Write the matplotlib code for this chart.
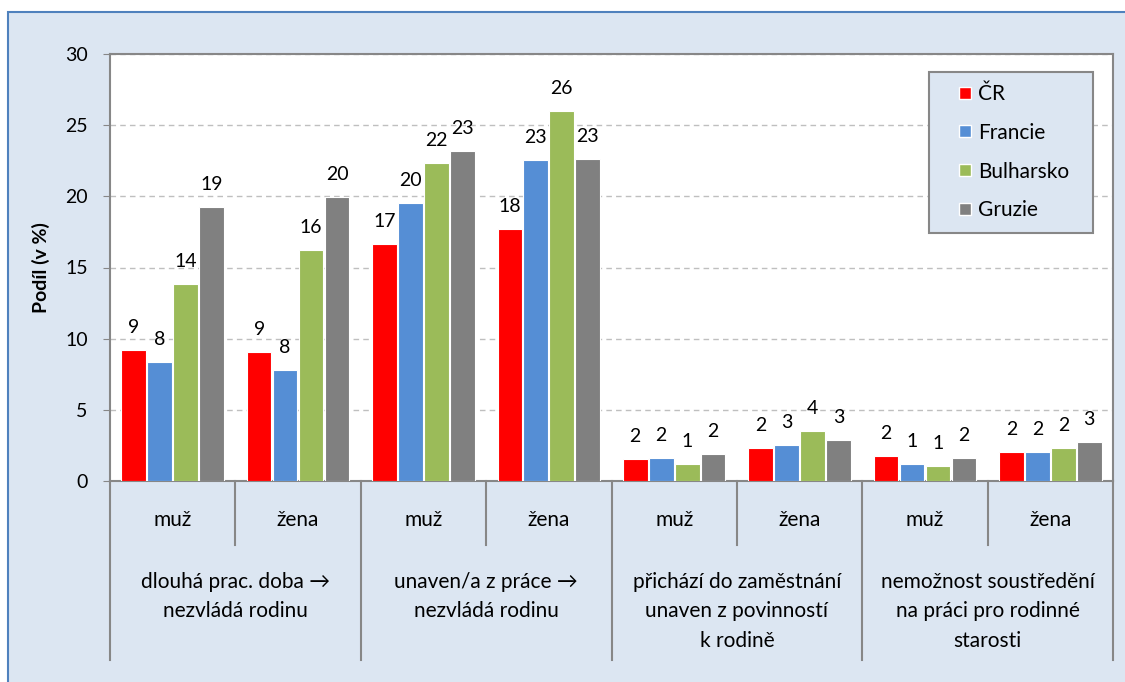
import matplotlib.pyplot as plt
from matplotlib.patches import Rectangle
from matplotlib.lines import Line2D

plt.rcParams['font.family'] = ['Lato', 'DejaVu Sans']

# data
zeme = ['ČR', 'Francie', 'Bulharsko', 'Gruzie']
barvy = ['#FF0000', '#558ED5', '#9BBB59', '#808080']
pohlavi = ['muž', 'žena'] * 4
skupiny = ['dlouhá prac. doba →\nnezvládá rodinu',
           'unaven/a z práce →\nnezvládá rodinu',
           'přichází do zaměstnání\nunaven z povinností\nk rodině',
           'nemožnost soustředění\nna práci pro rodinné\nstarosti']

cr        = [9.2, 9.05, 16.65, 17.7, 1.52, 2.35, 1.76, 2.04]
francie   = [8.36, 7.8, 19.55, 22.55, 1.64, 2.52, 1.19, 2.04]
bulharsko = [13.84, 16.23, 22.35, 26.0, 1.22, 3.52, 1.05, 2.32]
gruzie    = [19.25, 19.96, 23.2, 22.6, 1.9, 2.88, 1.62, 2.74]
hodnoty = [cr, francie, bulharsko, gruzie]

fig = plt.figure(figsize=(11.25, 6.82), dpi=100)
fig.patch.set_facecolor('white')
fig.patches.append(Rectangle((8/1125, -0.05), 1.2, 1.05 - 12/682, transform=fig.transFigure,
                             facecolor='#DCE6F2', edgecolor='#4F81BD', linewidth=1.5, zorder=-10))

ax = fig.add_axes([110/1125, 1 - 481/682, 1003/1125, 427/682])
ax.set_facecolor('white')

fs = 14
fs_txt = 15
krok = 0.207
for i, (nazev, vals) in enumerate(zip(zeme, hodnoty)):
    xs = [g + (i - 1.5) * krok for g in range(len(vals))]
    ax.bar(xs, vals, width=krok - 0.01, color=barvy[i], edgecolor='white', linewidth=0.8,
           label=nazev, zorder=3)
    for x, v in zip(xs, vals):
        ax.annotate('%.0f' % v, (x, v), xytext=(0, 10), textcoords='offset points',
                    ha='center', va='bottom', fontsize=fs, color='black')

ax.set_xlim(-0.5, 7.5)
ax.set_ylim(0, 30)
ax.set_yticks(range(0, 31, 5))
ax.tick_params(axis='y', labelsize=fs, color='#878787', length=5, pad=11)
ax.set_xticks([])
ax.yaxis.grid(True, linestyle=(0, (4, 3)), color='#BFBFBF', linewidth=1, zorder=0)
for s in ax.spines.values():
    s.set_color('#878787')
    s.set_linewidth(1.5)
ax.set_ylabel('Podíl (v %)', fontsize=14, fontweight='bold', labelpad=11)

# hierarchical category axis
tr = ax.get_xaxis_transform()
for g in range(8):
    ax.text(g, -0.091, pohlavi[g], transform=tr, ha='center', va='center', fontsize=fs_txt)
for k in range(9):
    x = k - 0.5
    dolni = -0.419 if k % 2 == 0 else -0.15
    ax.plot([x, x], [0, dolni], transform=tr, color='#878787', linewidth=1.5, clip_on=False)
for j, txt in enumerate(skupiny):
    ax.text(2 * j + 0.5, -0.212, txt, transform=tr, ha='center', va='top', fontsize=fs_txt,
            linespacing=1.6)

# legend: frame drawn separately, entries via fig.legend
fig.patches.append(Rectangle((929/1125, 1 - 233/682), 164/1125, 161/682, transform=fig.transFigure,
                             facecolor='#DCE6F2', edgecolor='#878787', linewidth=1.5, zorder=4))
handles = [Line2D([], [], marker='s', linestyle='none', markersize=8.5, markerfacecolor=c,
                  markeredgecolor='white', markeredgewidth=1) for c in barvy]
leg = fig.legend(handles, zeme, loc='upper left', bbox_to_anchor=(955/1125, 1 - 84/682),
                 fontsize=fs_txt, frameon=False, labelspacing=0.9,
                 handletextpad=0.12, handlelength=1.0, borderpad=0, borderaxespad=0)
leg.set_zorder(5)

fig.savefig('out.png', dpi=100)
